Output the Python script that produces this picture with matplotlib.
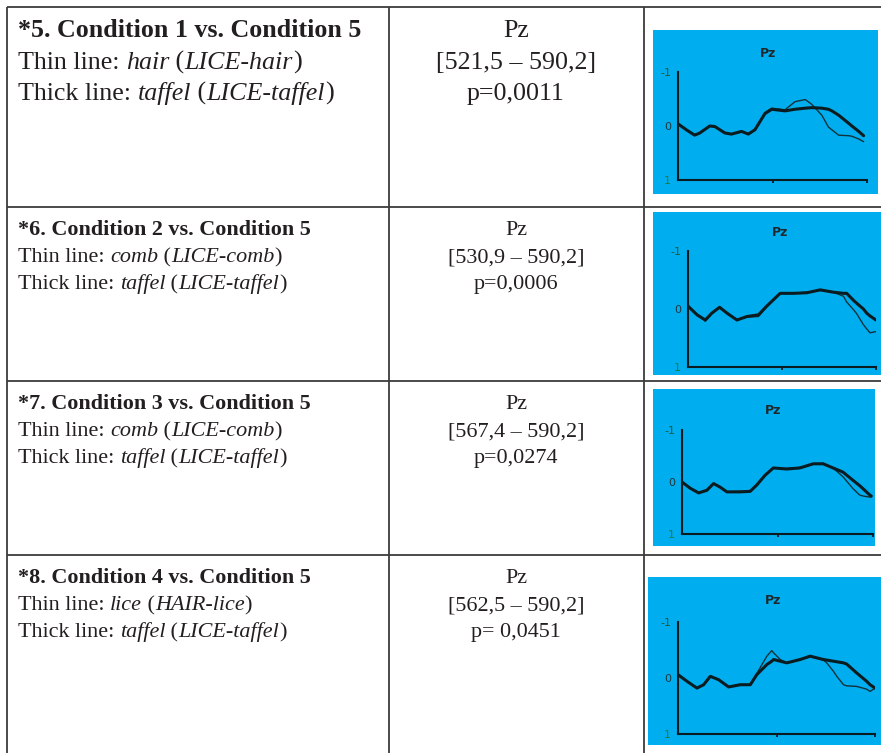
import matplotlib
matplotlib.use("Agg")
import matplotlib.pyplot as plt
from matplotlib.patches import Rectangle

W, H = 881, 753

# ---- table text ----
headings = ["*5. Condition 1 vs. Condition 5", "*6. Condition 2 vs. Condition 5",
            "*7. Condition 3 vs. Condition 5", "*8. Condition 4 vs. Condition 5"]
thin_words = [("hair", "LICE-hair"), ("comb", "LICE-comb"),
              ("comb", "LICE-comb"), ("lice", "HAIR-lice")]
thick_words = [("taffel", "LICE-taffel")] * 4
electrodes = ["Pz", "Pz", "Pz", "Pz"]
windows = ["[521,5 – 590,2]", "[530,9 – 590,2]", "[567,4 – 590,2]", "[562,5 – 590,2]"]
p_values = ["p=0,0011", "p=0,0006", "p=0,0274", "p= 0,0451"]

# ---- ERP traces at Pz (time in ms, amplitude in uV, negative up) ----
t1 = [0, 44, 88, 115, 168, 195, 248, 283, 336, 372, 407, 460, 496, 566, 619,
      673, 708, 761, 796, 814, 850, 903, 920, 956, 982]
thick1 = [-0.04, 0.07, 0.17, 0.13, 0.0, 0.01, 0.13, 0.15, 0.10, 0.15, 0.07, -0.23, -0.31,
          -0.28, -0.31, -0.33, -0.34, -0.33, -0.31, -0.28, -0.20, -0.05, 0.0, 0.10, 0.18]
thin1 = [-0.04, 0.07, 0.16, 0.13, 0.0, 0.02, 0.12, 0.15, 0.11, 0.14, 0.07, -0.25, -0.33,
         -0.30, -0.45, -0.49, -0.40, -0.20, 0.02, 0.07, 0.17, 0.18, 0.19, 0.24, 0.29]

t2 = [0, 48, 92, 127, 168, 207, 260, 313, 375, 419, 490, 561, 632, 703, 773,
      827, 844, 880, 897, 933, 950, 968, 1000]
thick2 = [-0.05, 0.10, 0.19, 0.07, -0.03, 0.07, 0.19, 0.13, 0.10, -0.05, -0.27, -0.27,
          -0.28, -0.33, -0.29, -0.27, -0.27, -0.15, -0.10, 0.0, 0.07, 0.12, 0.19]
thin2 = [-0.05, 0.10, 0.21, 0.08, -0.03, 0.08, 0.18, 0.14, 0.13, -0.04, -0.27, -0.27,
         -0.29, -0.32, -0.29, -0.22, -0.12, 0.01, 0.08, 0.27, 0.34, 0.41, 0.39]

t3 = [0, 43, 87, 130, 165, 200, 235, 304, 357, 391, 435, 478, 548, 617, 687,
      739, 791, 843, 896, 930, 948, 983, 991]
thick3 = [0.0, 0.12, 0.21, 0.16, 0.03, 0.10, 0.19, 0.19, 0.18, 0.06, -0.13, -0.27, -0.25,
          -0.27, -0.35, -0.35, -0.27, -0.19, -0.03, 0.07, 0.13, 0.25, 0.27]
thin3 = [0.0, 0.12, 0.20, 0.15, 0.03, 0.11, 0.19, 0.18, 0.18, 0.05, -0.14, -0.27, -0.26,
         -0.28, -0.34, -0.36, -0.27, -0.10, 0.13, 0.25, 0.27, 0.29, 0.29]

t4 = [0, 46, 96, 130, 164, 206, 257, 316, 367, 400, 451, 476, 485, 519, 552,
      620, 671, 738, 755, 789, 806, 840, 856, 907, 958, 975, 1000]
thick4 = [-0.06, 0.06, 0.18, 0.12, -0.03, 0.03, 0.16, 0.12, 0.12, -0.06, -0.24, -0.30,
          -0.33, -0.30, -0.27, -0.33, -0.39, -0.33, -0.32, -0.30, -0.29, -0.27, -0.25,
          -0.09, 0.06, 0.12, 0.18]
thin4 = [-0.06, 0.06, 0.18, 0.12, -0.03, 0.03, 0.16, 0.12, 0.12, -0.08, -0.39, -0.49,
         -0.45, -0.33, -0.27, -0.33, -0.38, -0.32, -0.27, -0.12, -0.03, 0.12, 0.14,
         0.15, 0.20, 0.24, 0.18]

traces = [(t1, thick1, thin1), (t2, thick2, thin2), (t3, thick3, thin3), (t4, thick4, thin4)]

# ---- layout (pixels) ----
row_tops = [7, 207, 381, 555]
col_lines = [7, 389, 644]
base_offsets = [[30, 62, 93], [28, 55, 82], [28, 55, 82], [28, 55, 82]]
font_sizes = [18.7, 15.9, 15.9, 15.9]
blue_boxes = [(653, 30, 878, 194), (653, 212, 882, 375), (653, 389, 875, 546), (648, 577, 882, 745)]
plot_areas = [(678, 72, 867, 180), (688, 251, 876, 367), (682, 430, 873, 534), (678, 622, 875, 734)]
title_pos = [(768, 53), (780, 232), (773, 410), (773, 601)]

SERIF = "Liberation Serif"
INK = "#231f20"
TRACE = "#0b1c21"

fig = plt.figure(figsize=(W / 100, H / 100), dpi=100)
base = fig.add_axes([0, 0, 1, 1])
base.set_xlim(0, W)
base.set_ylim(H, 0)
base.axis("off")

# grid lines of the table
base.hlines(row_tops, 7, W, color="#3c3c3c", lw=1.3)
base.vlines(col_lines, 7, H, color="#3c3c3c", lw=1.3)


def rich_line(x, y, parts, size):
    prev = None
    for s, style in parts:
        kw = dict(fontsize=size, family=SERIF, color=INK)
        if style == "i":
            kw["style"] = "italic"
        elif style == "b":
            kw["weight"] = "bold"
        if prev is None:
            prev = base.text(x, y, s, va="baseline", ha="left", **kw)
        else:
            prev = base.annotate(s, xy=(1, 0), xycoords=prev, va="bottom", ha="left", **kw)


for i in range(4):
    top = row_tops[i]
    b1, b2, b3 = [top + o for o in base_offsets[i]]
    fs = font_sizes[i]
    # left column
    rich_line(18, b1, [(headings[i], "b")], fs)
    rich_line(18, b2, [("Thin line: ", "n"), (thin_words[i][0], "i"), (" (", "n"),
                       (thin_words[i][1], "i"), (")", "n")], fs)
    rich_line(18, b3, [("Thick line: ", "n"), (thick_words[i][0], "i"), (" (", "n"),
                       (thick_words[i][1], "i"), (")", "n")], fs)
    # middle column
    for yy, s in zip((b1, b2, b3), (electrodes[i], windows[i], p_values[i])):
        base.text(516, yy, s, ha="center", va="baseline", fontsize=fs, family=SERIF, color=INK)

    # right column: small ERP plot
    bx0, by0, bx1, by1 = blue_boxes[i]
    base.add_patch(Rectangle((bx0, by0), bx1 - bx0, by1 - by0, color="#00aeef", lw=0))
    base.text(*title_pos[i], electrodes[i], ha="center", va="center", fontsize=9,
              fontweight="bold", color="#1e2a2e")

    x0, y0, x1, y1 = plot_areas[i]
    ax = fig.add_axes([x0 / W, 1 - y1 / H, (x1 - x0) / W, (y1 - y0) / H])
    ax.patch.set_visible(False)
    t, thick, thin = traces[i]
    ax.plot(t, thin, color="#12323a", lw=1.0, solid_capstyle="round")
    ax.plot(t, thick, color=TRACE, lw=2.2, solid_capstyle="round", solid_joinstyle="round")
    ax.set_xlim(0, 1000)
    ax.set_ylim(1, -1)
    for side in ("top", "right"):
        ax.spines[side].set_visible(False)
    for side in ("left", "bottom"):
        ax.spines[side].set_color(TRACE)
        ax.spines[side].set_linewidth(1.5)
    ax.set_xticks([500, 1000])
    ax.set_xticklabels([])
    ax.tick_params(axis="x", length=2, width=1.3, color=TRACE)
    ax.set_yticks([-1, 0, 1])
    ax.set_yticklabels(["-1", "0", "1"], fontsize=8)
    ax.tick_params(axis="y", length=0, pad=5)
    for lab, c in zip(ax.get_yticklabels(), ["#1d5a34", "#26363c", "#1f7a3c"]):
        lab.set_color(c)

fig.savefig("out.png", dpi=100)
